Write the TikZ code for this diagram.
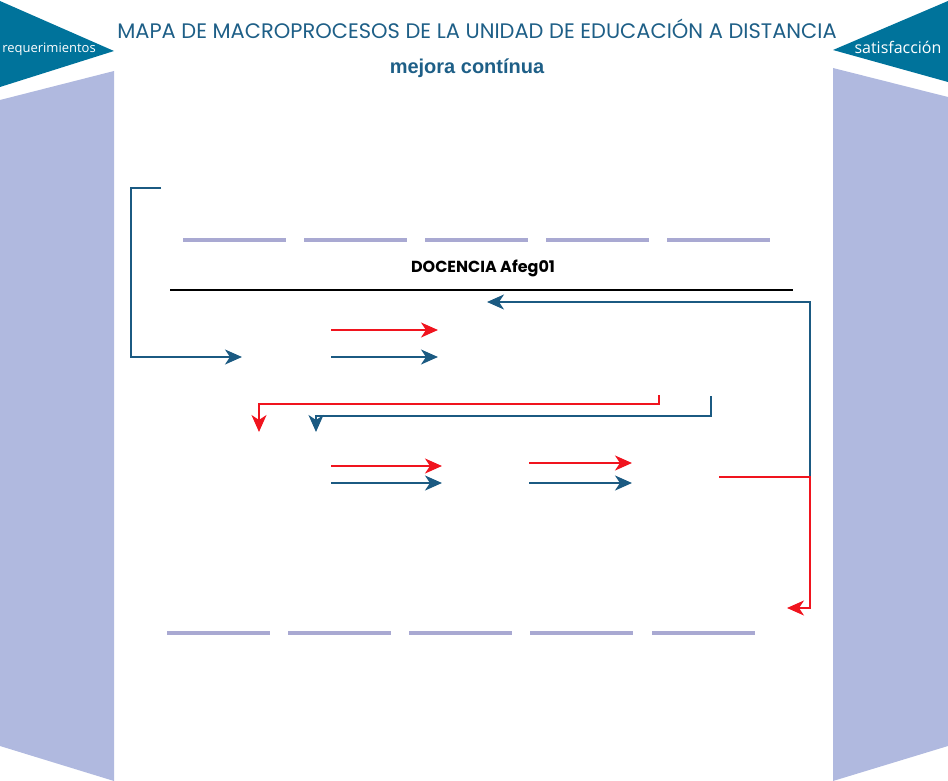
\documentclass[tikz,border=0pt]{standalone}
\usepackage{fontspec}
\newfontfamily\titlefont{Poppins}
\newfontfamily\sidefont{Open Sans}
\newfontfamily\subfont{Liberation Sans}
\usetikzlibrary{arrows.meta}

\definecolor{tealdark}{HTML}{00739B}
\definecolor{panel}{HTML}{B0B9DF}
\definecolor{dashlav}{HTML}{A9A9D2}
\definecolor{navy}{HTML}{1B5A82}
\definecolor{titleblue}{HTML}{1E5F87}
\definecolor{redflow}{HTML}{F0141E}

\begin{document}
\begin{tikzpicture}[
    x=1pt,y=-1pt,
    flag/.style={fill=tealdark,draw=none},
    side/.style={fill=panel,draw=none},
    sep/.style={draw=dashlav,line width=3.2pt},
    blueflow/.style={draw=navy,line width=2pt,
        -{Stealth[length=17pt,width=15pt,inset=5pt]}},
    redarrow/.style={draw=redflow,line width=2pt,
        -{Stealth[length=17pt,width=15pt,inset=5pt]}},
    every node/.style={inner sep=0pt}
]

\useasboundingbox (0,0) rectangle (948,781);

% side panels
\fill[flag] (0,1) -- (114,51) -- (0,87) -- cycle;
\fill[side] (0,100) -- (114,71) -- (114,781) -- (0,746) -- cycle;
\fill[flag] (948,1) -- (833,50) -- (948,82) -- cycle;
\fill[side] (833,68) -- (948,97) -- (948,746) -- (833,781) -- cycle;

\node[font=\sidefont\fontsize{13}{14}\selectfont,text=white]
    (req) at (49,49) {requerimientos};
\node[font=\sidefont\fontsize{16}{17}\selectfont,text=white]
    (sat) at (898,47) {satisfacción};

% titles
\node[font=\titlefont\fontsize{21}{22}\selectfont,text=titleblue]
    (title) at (477,29) {MAPA DE MACROPROCESOS DE LA UNIDAD DE EDUCACIÓN A DISTANCIA};
\node[font=\subfont\bfseries\fontsize{20}{21}\selectfont,text=titleblue]
    (mejora) at (467,68) {mejora contínua};
\node[font=\titlefont\bfseries\fontsize{16}{17}\selectfont]
    (docencia) at (483,268) {DOCENCIA Afeg01};

% separators
\foreach \s in {183,304,425,546,667}
    \draw[sep] (\s,240) -- ++(103,0);
\foreach \s in {167,288,409,530,652}
    \draw[sep] (\s,633) -- ++(103,0);
\draw[line width=2pt] (170,290) -- (793,290);

% flow end points
\coordinate (inA)  at (161,188);
\coordinate (inB)  at (242,357);
\coordinate (r1a)  at (331,330);
\coordinate (r1b)  at (438,330);
\coordinate (b1a)  at (331,357);
\coordinate (b1b)  at (438,357);
\coordinate (r2a)  at (659,395);
\coordinate (r2b)  at (259,432);
\coordinate (b2a)  at (711,396);
\coordinate (b2b)  at (316,432);
\coordinate (r3a)  at (331,466);
\coordinate (r3b)  at (442,466);
\coordinate (b3a)  at (331,483);
\coordinate (b3b)  at (442,483);
\coordinate (r4a)  at (529,463);
\coordinate (r4b)  at (632,463);
\coordinate (b4a)  at (529,483);
\coordinate (b4b)  at (632,483);
\coordinate (outA) at (719,477);
\coordinate (outB) at (787,608);
\coordinate (loop) at (487,302);

% connectors
\draw[blueflow] (inA) -- (131,188) |- (inB);
\draw[redarrow] (r1a) -- (r1b);
\draw[blueflow] (b1a) -- (b1b);
\draw[redarrow] (r2a) -- (659,404) -| (r2b);
\draw[blueflow] (b2a) -- (711,416) -| (b2b);
\draw[redarrow] (r3a) -- (r3b);
\draw[blueflow] (b3a) -- (b3b);
\draw[redarrow] (r4a) -- (r4b);
\draw[blueflow] (b4a) -- (b4b);
\draw[blueflow] (810,477) |- (loop);
\draw[redarrow] (outA) -| (810,608) -- (outB);

\end{tikzpicture}
\end{document}
